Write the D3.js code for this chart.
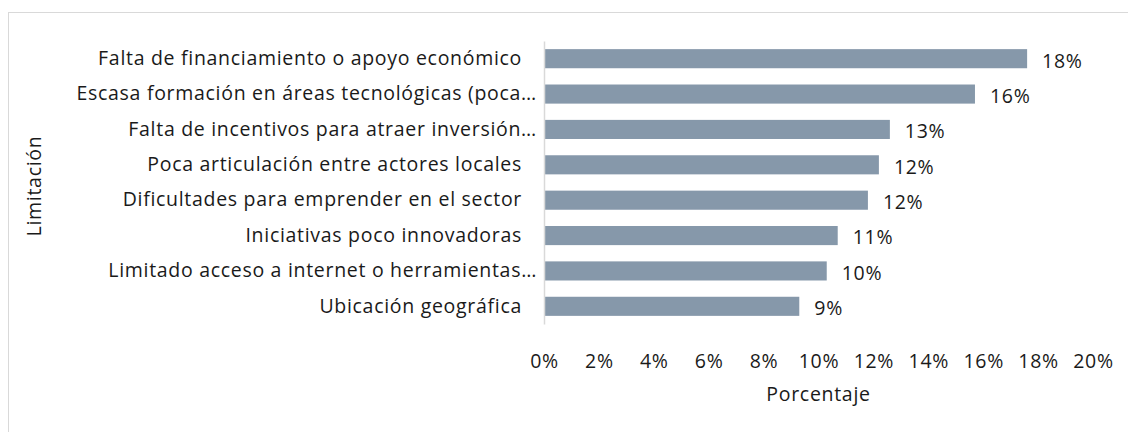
<!DOCTYPE html>
<html>
<head>
<meta charset="utf-8">
<script src="https://cdn.jsdelivr.net/npm/d3@7"></script>
<style>
  body { margin: 0; background: #fff; }
  text { font-family: "Open Sans", sans-serif; fill: #1a1a1a; letter-spacing: 0.7px; }
</style>
</head>
<body>
<figure id="chart" style="margin:0"></figure>
<script>
// categories, top to bottom
var categories = [
	"Falta de financiamiento o apoyo económico",
	"Escasa formación en áreas tecnológicas (poca…",
	"Falta de incentivos para atraer inversión…",
	"Poca articulación entre actores locales",
	"Dificultades para emprender en el sector",
	"Iniciativas poco innovadoras",
	"Limitado acceso a internet o herramientas…",
	"Ubicación geográfica"
];
// share of answers (fraction)
var values = [0.176, 0.157, 0.126, 0.122, 0.118, 0.107, 0.103, 0.093];
var xTicks = [0, 0.02, 0.04, 0.06, 0.08, 0.10, 0.12, 0.14, 0.16, 0.18, 0.20];
var xTitle = "Porcentaje";
var yTitle = "Limitación";

var data = categories.map((c, i) => ({ label: c, value: values[i] }));

var dimensions = {
	width: 1128,
	height: 432,
	margin: { top: 41, right: 35, bottom: 108, left: 544 }
};
dimensions.boundedWidth = dimensions.width - dimensions.margin.left - dimensions.margin.right;
dimensions.boundedHeight = dimensions.height - dimensions.margin.top - dimensions.margin.bottom;

var fontSize = "19.5px";

var svg = d3.select("figure#chart")
	.append("svg")
	.attr("width", dimensions.width)
	.attr("height", dimensions.height);

// chart frame (only top and left edges fall inside the picture)
svg.append("rect")
	.attr("x", 8.5).attr("y", 12.5)
	.attr("width", 1130).attr("height", 430)
	.attr("fill", "none")
	.attr("stroke", "#d9d9d9");

var bounds = svg.append("g")
	.attr("transform", `translate(${dimensions.margin.left},${dimensions.margin.top})`);

var xScale = d3.scaleLinear()
	.domain([0, 0.20])
	.range([0, dimensions.boundedWidth]);

var yScale = d3.scaleBand()
	.domain(categories)
	.range([0, dimensions.boundedHeight])
	.paddingInner(0.46)
	.paddingOuter(0.23);

// bars
bounds.selectAll("rect.bar")
	.data(data)
	.enter()
	.append("rect")
	.attr("class", "bar")
	.attr("x", xScale(0) + 1)
	.attr("y", d => yScale(d.label))
	.attr("width", d => xScale(d.value) - xScale(0) - 1)
	.attr("height", yScale.bandwidth())
	.attr("fill", "#8698aa");

// value labels
bounds.selectAll("text.val")
	.data(data)
	.enter()
	.append("text")
	.attr("class", "val")
	.attr("x", d => xScale(d.value) + 15)
	.attr("y", d => yScale(d.label) + yScale.bandwidth() / 2 + 2)
	.attr("dy", "0.35em")
	.style("font-size", fontSize)
	.text(d => d3.format(".0%")(d.value));

// y axis: light line, labels right aligned
var yAxis = bounds.append("g")
	.attr("class", "y-axis")
	.call(d3.axisLeft(yScale).tickSize(0).tickPadding(22));
yAxis.select(".domain").attr("stroke", "#d9d9d9").attr("stroke-width", 1.5);
yAxis.selectAll("text")
	.style("font-size", fontSize)
	.style("font-family", "Open Sans, sans-serif")
	.attr("fill", "#1a1a1a")
	// ellipsised labels sit a bit further right
	.attr("x", d => d.endsWith("…") ? -7 : -22);

// x axis: no line, labels only
var xAxis = bounds.append("g")
	.attr("class", "x-axis")
	.attr("transform", `translate(0, ${dimensions.boundedHeight})`)
	.call(d3.axisBottom(xScale).tickValues(xTicks).tickFormat(d3.format(".0%")).tickSize(0).tickPadding(30));
xAxis.select(".domain").remove();
xAxis.selectAll("text")
	.style("font-size", fontSize)
	.style("font-family", "Open Sans, sans-serif")
	.attr("fill", "#1a1a1a");

// axis titles
svg.append("text")
	.attr("x", dimensions.margin.left + dimensions.boundedWidth / 2)
	.attr("y", 401)
	.attr("text-anchor", "middle")
	.style("font-size", fontSize)
	.text(xTitle);

svg.append("text")
	.attr("transform", `translate(41, 186) rotate(-90)`)
	.attr("text-anchor", "middle")
	.style("font-size", fontSize)
	.text(yTitle);
</script>
</body>
</html>
